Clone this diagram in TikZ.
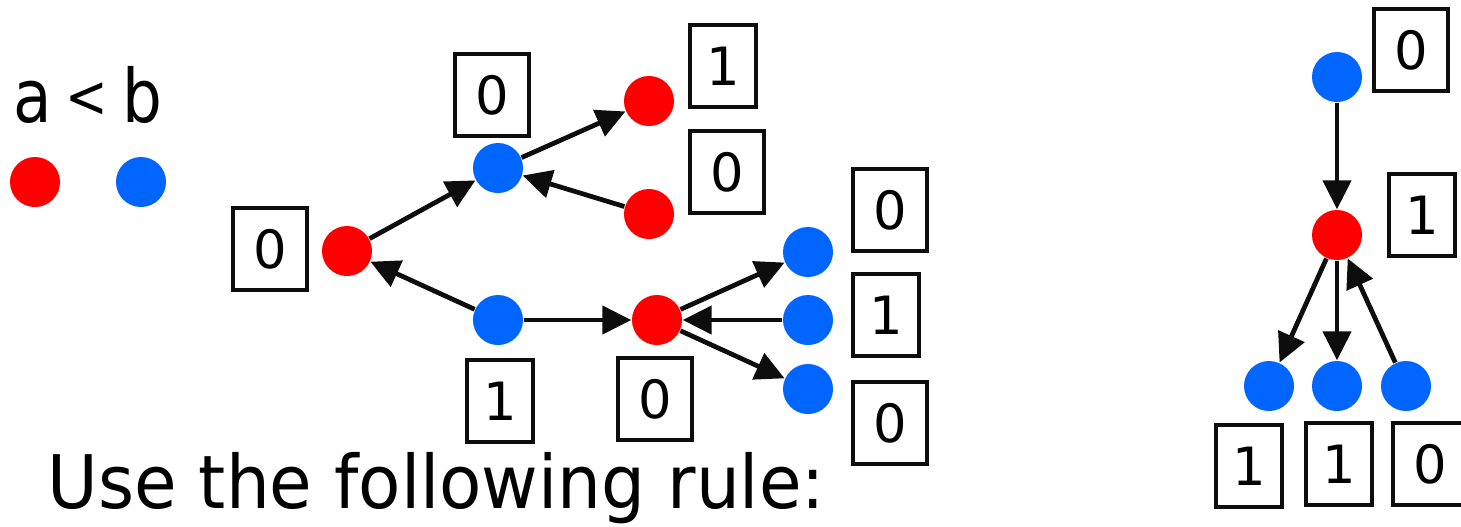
\documentclass[tikz,border=0pt]{standalone}
\usepackage{fontspec}
\setmainfont{DejaVu Sans}
\usetikzlibrary{arrows.meta}
\definecolor{dotred}{RGB}{255,0,0}
\definecolor{dotblue}{RGB}{0,102,255}
\tikzset{
  rdot/.style={circle,fill=dotred,minimum size=0.5cm,inner sep=0pt},
  bdot/.style={circle,fill=dotblue,minimum size=0.5cm,inner sep=0pt},
  lbl/.style={draw=black!95,line width=1.0pt,minimum height=0.82cm,inner sep=0pt,font=\fontsize{15}{15}\selectfont},
  lblz/.style={lbl,minimum width=0.74cm},
  lblo/.style={lbl,minimum width=0.66cm},
  arr/.style={-{Triangle[length=0.29cm,width=0.28cm]},line width=1.35pt,black!95},
  bigtxt/.style={font=\fontsize{21}{21}\selectfont,inner sep=0pt,anchor=base west}
}
\begin{document}
\begin{tikzpicture}[x=0.01cm,y=-0.01cm]
\useasboundingbox (0,0) rectangle (1461,526);
% legend
\node[bigtxt] (ab) at (13,122) {\scalebox{0.85}[1]{a\hspace{0.22em}\raisebox{0.1ex}{\fontsize{17}{17}\selectfont<}\hspace{0.22em}b}};
\node[rdot] (la) at (35,182) {};
\node[bdot] (lb) at (141,182) {};
% left graph nodes
\node[rdot] (r1) at (347,251) {};
\node[bdot] (b1) at (498,168) {};
\node[rdot] (r2) at (649,101) {};
\node[rdot] (r3) at (649,214) {};
\node[bdot] (b2) at (498,320) {};
\node[rdot] (r4) at (657,320) {};
\node[bdot] (b3) at (808,252) {};
\node[bdot] (b4) at (808,320) {};
\node[bdot] (b5) at (808,389) {};
% labels
\node[lblz] (l1) at (270,249) {0};
\node[lblz] (l2) at (492,95) {0};
\node[lblo] (l3) at (723,66) {1};
\node[lblz] (l4) at (727,172) {0};
\node[lblo] (l5) at (500,401) {1};
\node[lblz] (l6) at (655,399) {0};
\node[lblz] (l7) at (890,210) {0};
\node[lblo] (l8) at (886,315) {1};
\node[lblz] (l9) at (890,423) {0};
% edges
\draw[arr] (r1) -- (b1);
\draw[arr] (b1) -- (r2);
\draw[arr] (r3) -- (b1);
\draw[arr] (b2) -- (r1);
\draw[arr] (b2) -- (r4);
\draw[arr] (r4) -- (b3);
\draw[arr] (b4) -- (r4);
\draw[arr] (r4) -- (b5);
% right graph
\node[bdot] (t1) at (1337,77) {};
\node[rdot] (t2) at (1337,235) {};
\node[bdot] (t3) at (1269,386) {};
\node[bdot] (t4) at (1337,386) {};
\node[bdot] (t5) at (1406,386) {};
\node[lblz] (m1) at (1411,50) {0};
\node[lblo] (m2) at (1422,215) {1};
\node[lblo] (m3) at (1249,466) {1};
\node[lblo] (m4) at (1339,464) {1};
\node[lblz] (m5) at (1430,464) {0};
\draw[arr] (t1) -- (t2);
\draw[arr] (t2) -- (t3);
\draw[arr] (t2) -- (t4);
\draw[arr] (t5) -- (t2);
% rule text
\node[bigtxt] (rule) at (47,508) {\scalebox{0.937}[1]{Use the following rule:}};
\end{tikzpicture}
\end{document}
